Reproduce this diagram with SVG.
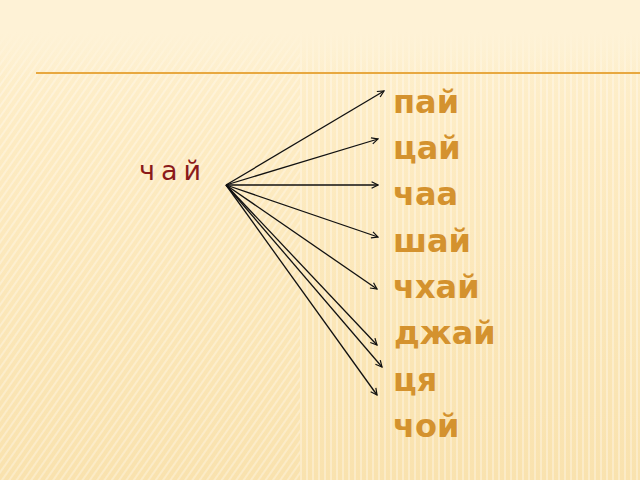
<svg xmlns="http://www.w3.org/2000/svg" width="640" height="480" viewBox="0 0 640 480">
<defs>
<style>
.w{font-family:"DejaVu Sans",Verdana,sans-serif;font-weight:bold;font-size:32px;fill:#D4922E}
.src{font-family:"DejaVu Sans",sans-serif;font-size:27px;fill:#8B1A1A;letter-spacing:6px}
.c{stroke:#111111;stroke-width:1.3;fill:none;marker-end:url(#ah)}
</style>
<marker id="ah" viewBox="0 0 10 10" refX="9" refY="5" markerWidth="8" markerHeight="8" orient="auto" markerUnits="userSpaceOnUse">
<path d="M1,1 L9,5 L1,9" fill="none" stroke="#111111" stroke-width="1.5"/>
</marker>
<pattern id="vs" width="6" height="10" patternUnits="userSpaceOnUse">
<rect x="0" y="0" width="2" height="10" fill="#ffffff" opacity="0.3"/>
</pattern>
<pattern id="ds" width="6" height="6" patternUnits="userSpaceOnUse" patternTransform="rotate(35)">
<rect x="0" y="0" width="2" height="6" fill="#ffffff" opacity="0.3"/>
</pattern>
<linearGradient id="bg" x1="0" y1="0" x2="0" y2="1">
<stop offset="0" stop-color="#FEF1D2"/>
<stop offset="0.3" stop-color="#FDEBC2"/>
<stop offset="1" stop-color="#F9E2AE"/>
</linearGradient>
<linearGradient id="fade" x1="0" y1="0" x2="0" y2="1">
<stop offset="0" stop-color="#FEF2D6" stop-opacity="1"/>
<stop offset="0.4" stop-color="#FEF2D6" stop-opacity="1"/>
<stop offset="1" stop-color="#FEF2D6" stop-opacity="0"/>
</linearGradient>
</defs>
<rect width="640" height="480" fill="url(#bg)"/>
<rect x="0" y="0" width="300" height="480" fill="url(#ds)"/>
<rect x="300" y="0" width="340" height="480" fill="url(#vs)"/>
<rect x="0" y="0" width="640" height="80" fill="url(#fade)"/>
<line x1="36" y1="73" x2="640" y2="73" stroke="#E8A840" stroke-width="2"/>
<g id="src"><text class="src" x="139" y="180">чай</text></g>
<g id="connectors">
<line class="c" x1="226" y1="185" x2="384" y2="91"/>
<line class="c" x1="226" y1="185" x2="378" y2="139"/>
<line class="c" x1="226" y1="185" x2="378" y2="185"/>
<line class="c" x1="226" y1="185" x2="378" y2="237"/>
<line class="c" x1="226" y1="185" x2="377" y2="289"/>
<line class="c" x1="226" y1="185" x2="377" y2="345"/>
<line class="c" x1="226" y1="185" x2="382" y2="367" stroke="#6b5530" stroke-width="1"/>
<line class="c" x1="226" y1="185" x2="377" y2="395"/>
</g>
<g id="n1"><text class="w" x="393" y="113">пай</text></g>
<g id="n2"><text class="w" x="393" y="159">цай</text></g>
<g id="n3"><text class="w" x="393" y="205">чаа</text></g>
<g id="n4"><text class="w" x="393" y="252">шай</text></g>
<g id="n5"><text class="w" x="393" y="298">чхай</text></g>
<g id="n6"><text class="w" x="394" y="344">джай</text></g>
<g id="n7"><text class="w" x="393" y="391">ця</text></g>
<g id="n8"><text class="w" x="393" y="437">чой</text></g>
</svg>
